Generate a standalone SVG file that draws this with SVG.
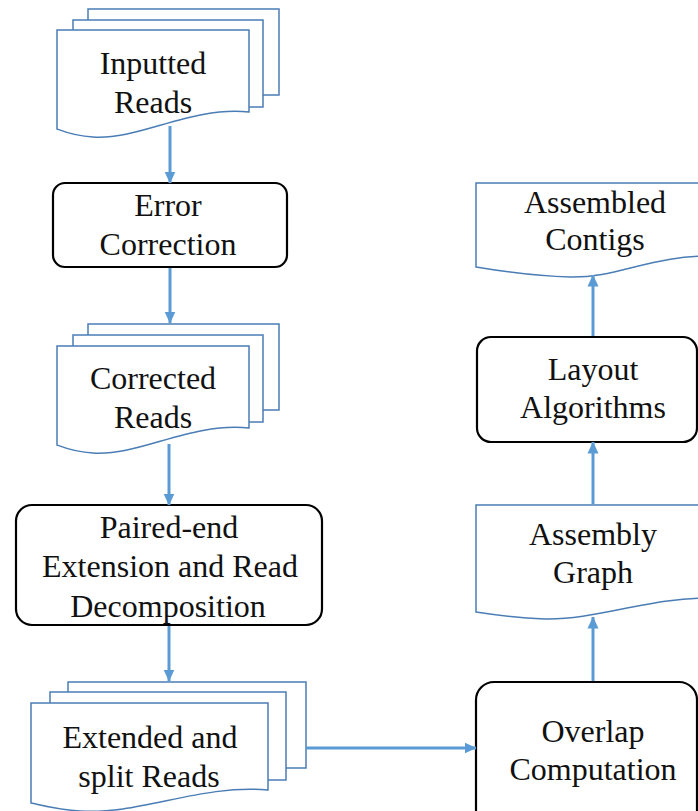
<svg xmlns="http://www.w3.org/2000/svg" width="698" height="811" viewBox="0 0 698 811">
<defs>
<style>
.doc{fill:#fff;stroke:#4a7db5;stroke-width:1.5}
.proc{fill:#fff;stroke:#000;stroke-width:2.2}
.t{font-family:"Liberation Serif","Times New Roman",serif;font-size:32px;fill:#111;text-anchor:middle}
.arr{stroke:#5b9bd5;stroke-width:3;fill:none;marker-end:url(#ah)}
</style>
<marker id="ah" markerUnits="userSpaceOnUse" markerWidth="12" markerHeight="12" viewBox="0 0 12 12" refX="11.5" refY="6" orient="auto">
<path d="M0,0.5 L12,6 L0,11.5 Z" fill="#5b9bd5"/>
</marker>
</defs>
<rect width="698" height="811" fill="#fff"/>
<g id="inputted-reads">
<rect class="doc" x="88" y="9" width="191" height="86"/>
<rect class="doc" x="73" y="20" width="190" height="87"/>
<path class="doc" d="M57,30 H249 V112 C190,106 140,140 93,137 C75,136 65,132 57,129 Z"/>
<text class="t" x="153" y="74">Inputted</text>
<text class="t" x="153" y="113">Reads</text>
</g>
<g id="error-correction">
<rect class="proc" x="53" y="183" width="234" height="84" rx="12"/>
<text class="t" x="168" y="216">Error</text>
<text class="t" x="168" y="255">Correction</text>
</g>
<g id="corrected-reads">
<rect class="doc" x="88" y="324" width="191" height="86"/>
<rect class="doc" x="73" y="335" width="190" height="87"/>
<path class="doc" d="M57,346 H249 V428 C190,422 140,456 93,453 C75,452 65,448 57,445 Z"/>
<text class="t" x="153" y="389">Corrected</text>
<text class="t" x="153" y="428">Reads</text>
</g>
<g id="paired-end">
<rect class="proc" x="16" y="505" width="306" height="120" rx="16"/>
<text class="t" x="169" y="538">Paired-end</text>
<text class="t" x="170" y="577">Extension and Read</text>
<text class="t" x="168" y="617">Decomposition</text>
</g>
<g id="extended-reads">
<rect class="doc" x="68" y="682" width="238" height="86"/>
<rect class="doc" x="50" y="692" width="236" height="88"/>
<path class="doc" d="M31,703 H268 V790 C200,784 140,815 80,811 C60,810 45,806 31,803 Z"/>
<text class="t" x="150" y="748">Extended and</text>
<text class="t" x="149" y="787">split Reads</text>
</g>
<g id="overlap">
<rect class="proc" x="476" y="682" width="221" height="150" rx="18"/>
<text class="t" x="593" y="742">Overlap</text>
<text class="t" x="593" y="780">Computation</text>
</g>
<g id="assembly-graph">
<path class="doc" d="M476,505 H720 V598 C650,596 600,620 545,619 C520,618 495,615 476,612 Z"/>
<text class="t" x="593" y="545">Assembly</text>
<text class="t" x="593" y="583">Graph</text>
</g>
<g id="layout">
<rect class="proc" x="477" y="337" width="220" height="105" rx="14"/>
<text class="t" x="593" y="380">Layout</text>
<text class="t" x="593" y="418">Algorithms</text>
</g>
<g id="assembled-contigs">
<path class="doc" d="M476,183 H720 V256 C650,254 620,278 570,277 C530,276 500,271 476,267 Z"/>
<text class="t" x="595" y="213">Assembled</text>
<text class="t" x="595" y="250">Contigs</text>
</g>
<g id="connectors">
<line class="arr" x1="170" y1="126" x2="170" y2="183"/>
<line class="arr" x1="170" y1="268" x2="170" y2="323"/>
<line class="arr" x1="169" y1="444" x2="169" y2="505"/>
<line class="arr" x1="169" y1="626" x2="169" y2="681"/>
<line class="arr" x1="306" y1="748" x2="476" y2="748"/>
<line class="arr" x1="593" y1="681" x2="593" y2="617"/>
<line class="arr" x1="593" y1="504" x2="593" y2="442"/>
<line class="arr" x1="593" y1="336" x2="593" y2="275"/>
</g>
</svg>
